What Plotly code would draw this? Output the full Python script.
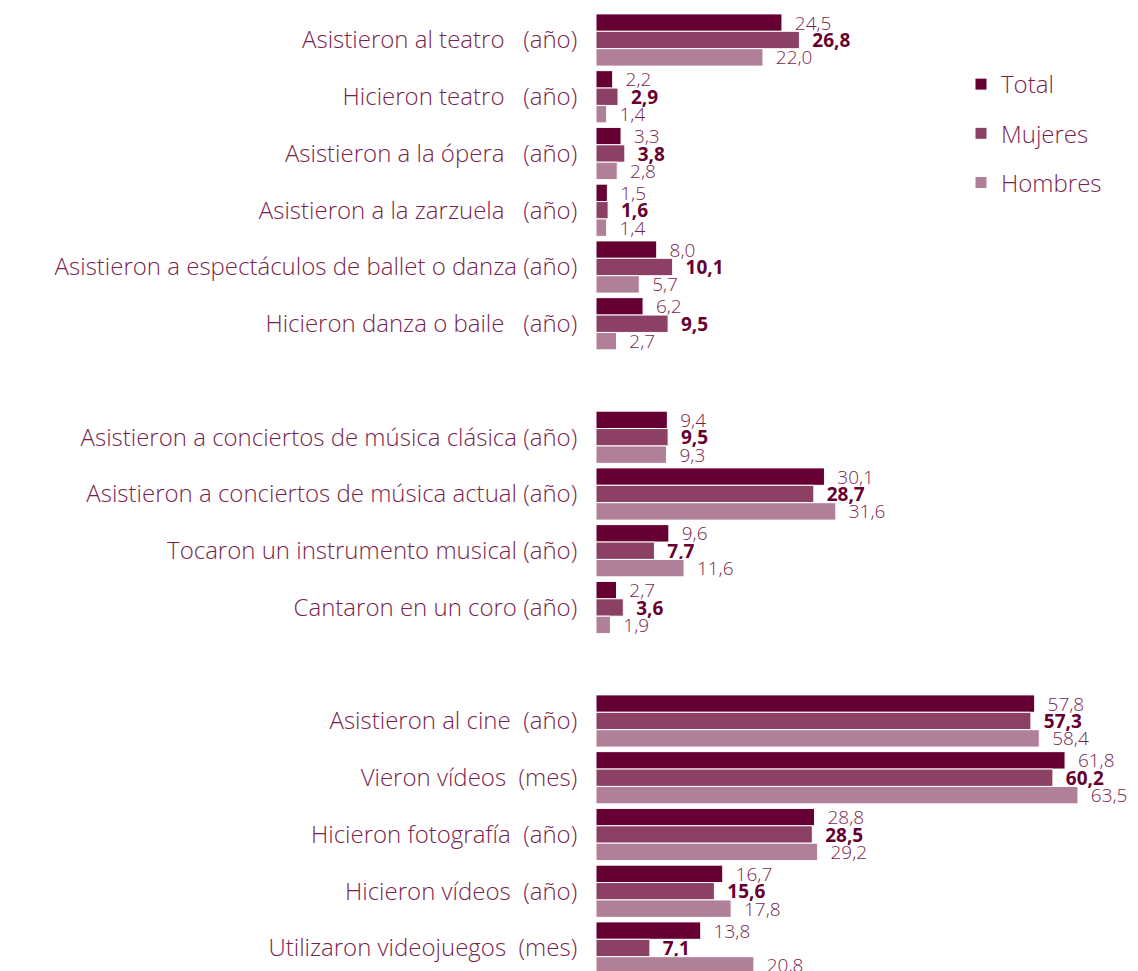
import plotly.graph_objects as go

NB = "\u00a0"

categorias = [
    "Asistieron al teatro" + NB * 3 + "(año)",
    "Hicieron teatro" + NB * 3 + "(año)",
    "Asistieron a la ópera" + NB * 3 + "(año)",
    "Asistieron a la zarzuela" + NB * 3 + "(año)",
    "Asistieron a espectáculos de ballet o danza (año)",
    "Hicieron danza o baile" + NB * 3 + "(año)",
    " ",
    "Asistieron a conciertos de música clásica (año)",
    "Asistieron a conciertos de música actual (año)",
    "Tocaron un instrumento musical (año)",
    "Cantaron en un coro (año)",
    "  ",
    "Asistieron al cine" + NB * 2 + "(año)",
    "Vieron vídeos" + NB * 2 + "(mes)",
    "Hicieron fotografía" + NB * 2 + "(año)",
    "Hicieron vídeos" + NB * 2 + "(año)",
    "Utilizaron videojuegos" + NB * 2 + "(mes)",
]

total = [24.5, 2.2, 3.3, 1.5, 8.0, 6.2, None, 9.4, 30.1, 9.6, 2.7, None,
         57.8, 61.8, 28.8, 16.7, 13.8]
mujeres = [26.8, 2.9, 3.8, 1.6, 10.1, 9.5, None, 9.5, 28.7, 7.7, 3.6, None,
           57.3, 60.2, 28.5, 15.6, 7.1]
hombres = [22.0, 1.4, 2.8, 1.4, 5.7, 2.7, None, 9.3, 31.6, 11.6, 1.9, None,
           58.4, 63.5, 29.2, 17.8, 20.8]

series = [
    ("Total", total, "#660033", False),
    ("Mujeres", mujeres, "#8b4064", True),
    ("Hombres", hombres, "#b07f98", False),
]

TXT = "#7a1f4d"
FONT = "Open Sans"

# the page body has an 8px margin, so the figure is drawn 8px smaller
W, H = 1130, 963
LEFT = 588
SLOT = 56.75


def fmt(v):
    if v is None:
        return ""
    return NB * 2 + ("%.1f" % v).replace(".", ",")


fig = go.Figure()
for name, vals, color, bold in series:
    fig.add_trace(go.Bar(
        y=categorias, x=vals, orientation="h", name=name,
        marker=dict(color=color, line=dict(color="white", width=1)),
        text=[fmt(v) for v in vals],
        textposition="outside",
        constraintext="none",
        cliponaxis=False,
        textfont=dict(size=19, color="#66002f" if bold else TXT,
                      family=FONT, weight="bold" if bold else 300),
        legendgroup=name,
        hoverinfo="skip",
    ))

plot_w = W - LEFT
fig.update_layout(
    width=W, height=H,
    barmode="group", bargap=0.08, bargroupgap=0,
    plot_bgcolor="white", paper_bgcolor="white",
    margin=dict(l=LEFT, r=0, t=0, b=0, autoexpand=False),
    font=dict(family=FONT, color=TXT, size=24, weight=300),
    showlegend=True,
    legend=dict(x=(953 - LEFT) / plot_w, y=1 - 54 / H, xanchor="left", yanchor="top",
                traceorder="grouped", tracegroupgap=15,
                font=dict(size=24, color=TXT, family=FONT, weight=300),
                bgcolor="rgba(0,0,0,0)"),
)
fig.update_xaxes(range=[0, plot_w / 7.59], visible=False, showgrid=False)
fig.update_yaxes(
    categoryorder="array", categoryarray=categorias,
    range=[16 + 23 / SLOT, -32 / SLOT],
    showgrid=False, showline=False, zeroline=False,
    ticks="outside", ticklen=13, tickcolor="rgba(0,0,0,0)",
    tickfont=dict(size=24, color=TXT, family=FONT, weight=300),
)

fig.write_html("out.html")
